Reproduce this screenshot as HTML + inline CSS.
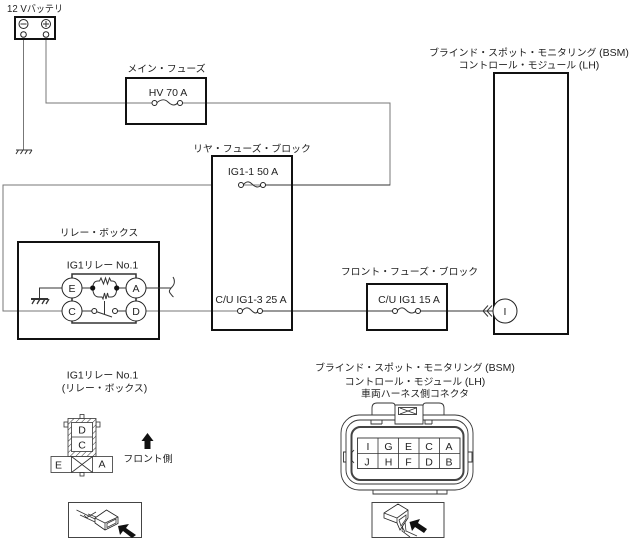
<!DOCTYPE html>
<html><head><meta charset="utf-8">
<style>
html,body{margin:0;padding:0;background:#fff;width:634px;height:541px;overflow:hidden}
svg{display:block}
text{font-family:"Liberation Sans","Noto Sans CJK JP",sans-serif;font-size:9.85px;fill:#222;text-anchor:middle}
.L{font-size:10.5px}
tspan.L{font-size:10.5px}
.w{fill:none;stroke:#333;stroke-width:1}
.g{fill:none;stroke:#777;stroke-width:1}
.b{fill:none;stroke:#111;stroke-width:2}
.t{fill:none;stroke:#333;stroke-width:.8}
.c{fill:#fff;stroke:#222;stroke-width:1}
</style></head><body>
<svg width="634" height="541" viewBox="0 0 634 541" xmlns="http://www.w3.org/2000/svg">
<defs>
<pattern id="h" width="4" height="4" patternUnits="userSpaceOnUse" patternTransform="rotate(-45)"><rect width="4" height="4" fill="#fff"/><line x1="0" y1="0" x2="4" y2="0" stroke="#333" stroke-width="1"/></pattern>
</defs>

<!-- wires -->
<path class="g" d="M23.500 38V150M46 38V103H154M180 103H390V185H241M212 185H3V311H62"/>
<path class="w" d="M263 185H390"/>
<path class="g" d="M146 311H240"/>
<path class="w" d="M260 311H395M418 311H493"/>

<!-- battery -->
<text x="35" y="12" textLength="56" lengthAdjust="spacingAndGlyphs"><tspan class="L">12 V</tspan>バッテリ</text>
<rect class="b" x="15" y="17" width="40" height="22"/>
<circle class="c" cx="23.500" cy="24" r="4.500"/><path class="w" d="M20.500 24H26.500"/>
<circle class="c" cx="46" cy="24" r="4.500"/><path class="w" d="M43 24H49M46 21V27"/>
<circle class="c" cx="23.500" cy="34.500" r="2.800"/><circle class="c" cx="46" cy="34.500" r="2.800"/>
<!-- ground -->
<path class="w" d="M16 150H32M18.500 150L16 154M23 150L20.500 154M27.500 150L25 154M32 150L29.500 154"/>

<!-- main fuse -->
<text x="166.500" y="72">メイン・フューズ</text>
<rect class="b" x="126" y="78" width="80" height="46"/>
<text class="L" x="168" y="96">HV 70 A</text>
<path class="w" d="M156.500 103C162 98 166 100 168 102S174 107 177.500 103"/>
<circle class="c" cx="154.500" cy="103" r="2.500"/><circle class="c" cx="180" cy="103" r="2.500"/>

<!-- rear fuse block -->
<text x="252" y="152">リヤ・フューズ・ブロック</text>
<rect class="b" x="212" y="156" width="80" height="174"/>
<text class="L" x="253" y="175">IG1-1 50 A</text>
<path class="w" d="M243 185C247 180 250 182 252 184S258 189 261 185"/>
<circle class="c" cx="241" cy="185" r="2.500"/><circle class="c" cx="263" cy="185" r="2.500"/>
<text class="L" x="251" y="303">C/U IG1-3 25 A</text>
<path class="w" d="M242 311C246 306 249 308 251 310S256 315 258 311"/>
<circle class="c" cx="240" cy="311" r="2.500"/><circle class="c" cx="260" cy="311" r="2.500"/>

<!-- front fuse block -->
<text x="409.500" y="275">フロント・フューズ・ブロック</text>
<rect class="b" x="367" y="284" width="80" height="46"/>
<text class="L" x="409" y="303">C/U IG1 15 A</text>
<path class="w" d="M397 311C401 306 404 308 406 310S412 315 416 311"/>
<circle class="c" cx="395" cy="311" r="2.500"/><circle class="c" cx="418" cy="311" r="2.500"/>

<!-- BSM -->
<text x="529" y="56">ブラインド・スポット・モニタリング <tspan class="L">(BSM)</tspan></text>
<text x="529" y="68.500">コントロール・モジュール <tspan class="L">(LH)</tspan></text>
<rect class="b" x="494" y="73" width="74" height="261" fill="#fff"/>
<circle class="c" cx="505" cy="311" r="12"/>
<text class="L" x="505" y="315">I</text>
<path class="w" d="M488 305.500L483 311L488 316.500M492 305.500L487 311L492 316.500"/>

<!-- relay box -->
<text x="99" y="236">リレー・ボックス</text>
<rect class="b" x="18" y="242" width="141" height="97"/>
<text x="102.500" y="268.500"><tspan class="L">IG1</tspan>リレー <tspan class="L">No.1</tspan></text>
<path class="w" d="M72 288V274H136V288M72 311V323H136V311M72 288V311M136 288V311" style="stroke-width:1.500"/>
<path class="w" d="M39.500 299V288H62M146 288H171"/>
<path class="w" d="M173 277C175 280 175 284 172 287S169 292 170 293S172 296 173.500 297"/>
<path class="w" d="M31 299H48" style="stroke-width:2"/>
<path class="w" d="M35 299L32 304M40 299L37 304M45 299L42 304M49 299L46 304" style="stroke-width:1.300"/>
<circle class="c" cx="72" cy="288" r="10"/><circle class="c" cx="72" cy="311" r="10"/>
<circle class="c" cx="136" cy="288" r="10"/><circle class="c" cx="136" cy="311" r="10"/>
<text class="L" x="72" y="292">E</text><text class="L" x="72" y="315">C</text>
<text class="L" x="136" y="292">A</text><text class="L" x="136" y="315">D</text>
<path class="w" d="M82 288H114M126 288H116.500"/>
<path fill="#fff" stroke="#333" stroke-width="1" d="M92.700 288Q93 281 98 281L99.500 281L101 278L103.500 284L105.500 278L107.500 284L109.500 278L111 281H112Q116.700 281 116.700 288Q116.700 297 111 297H108.500L107.500 293L106 299L104.500 293L103 299L102 297H99Q93 297 92.700 288Z"/>
<circle cx="92.700" cy="288" r="2.600" fill="#111"/><circle cx="116.700" cy="288" r="2.600" fill="#111"/>
<path class="w" d="M82 311H92M126 311H117.500M96 311.500L112 317M104.500 301V314"/>
<circle class="c" cx="94.300" cy="311" r="2.500"/><circle class="c" cx="115" cy="311" r="2.500"/>

<!-- relay view -->
<text x="102.500" y="378.500"><tspan class="L">IG1</tspan>リレー <tspan class="L">No.1</tspan></text>
<text x="104.500" y="391.500"><tspan class="L">(</tspan>リレー・ボックス<tspan class="L">)</tspan></text>
<rect class="t" x="80" y="414.500" width="4" height="4"/>
<rect class="t" x="64" y="422" width="4" height="5"/><rect class="t" x="96" y="422" width="4" height="5"/>
<rect x="68" y="418.500" width="28" height="38" fill="url(#h)" stroke="#333" stroke-width=".8"/>
<rect x="71.500" y="422.500" width="21" height="29" fill="#fff" stroke="#333" stroke-width=".8"/>
<path class="t" d="M71.500 437H92.500"/>
<text class="L" x="82" y="433.500">D</text><text class="L" x="82" y="448.500">C</text>
<rect x="51" y="456.500" width="61.500" height="16" fill="#fff" stroke="#333" stroke-width=".8"/>
<path class="t" d="M71.500 456.500V472.500M92.500 456.500V472.500M71.500 456.500L92.500 472.500M92.500 456.500L71.500 472.500"/>
<rect class="t" x="80" y="472.500" width="4" height="3.500"/>
<text class="L" x="58.500" y="468.500">E</text><text class="L" x="102" y="467.500">A</text>
<path d="M147.500 433L153.500 441H150.500V449H144.500V441H141.500Z" fill="#111"/>
<text x="148" y="462">フロント側</text>

<!-- inset 1 -->
<rect x="68.500" y="502.500" width="73" height="35" fill="none" stroke="#444" stroke-width="1"/>
<path class="t" d="M76.500 510L95 519M80 515L95 522M84 515L88 519M88 514L96 517M86 518L96 512"/>
<path class="c" d="M95 518L106.500 510L118 517V523.500L105 530L95 523Z" style="stroke-width:.8"/>
<path class="t" d="M95 518L105 523L118 517M105 523V530M107 523.500L116 519V523L107 527.500Z"/>
<path d="M118 526L129 524L126 528L136 535L132 538L123 531L120 535Z" fill="#111"/>

<!-- connector title -->
<text x="415" y="371">ブラインド・スポット・モニタリング <tspan class="L">(BSM)</tspan></text>
<text x="415" y="385">コントロール・モジュール <tspan class="L">(LH)</tspan></text>
<text x="415" y="397">車両ハーネス側コネクタ</text>

<!-- connector -->
<g fill="none" stroke="#333" stroke-width=".9">
<path d="M372 415V408Q372 403 377 403H392Q395 403 395 406M423 406Q423 403 426 403H439Q444 403 444 408V415"/>
<rect x="341" y="415" width="132" height="75" rx="18"/>
<rect x="346" y="420" width="122" height="64" rx="14"/>
<path d="M395 405H423V424H395Z" fill="#fff"/>
<rect x="398.500" y="407.500" width="18" height="7" fill="#fff"/>
<path d="M400 408L416 414M416 408L400 414"/>
<path d="M382 424V420M382 424H371V420M402 424H412M432 424H425V420M432 424V420"/>
<rect x="351.500" y="427" width="112" height="53" rx="9" stroke="#444" stroke-width="2"/>
<path d="M468 452H472V462H468M346 452H343.500V462H346"/>
<path d="M373 490V494H437V490M437 494H447V490"/>
<path d="M354 450L351.500 453V460L354 463"/>
</g>
<rect x="357.500" y="438" width="102.500" height="30.500" fill="#fff" stroke="#333" stroke-width=".9"/>
<path class="t" d="M357.500 453.500H460M378 438V468.500M398.500 438V468.500M419 438V468.500M439.500 438V468.500"/>
<g>
<text class="L" x="368" y="450">I</text><text class="L" x="388.500" y="450">G</text><text class="L" x="408.500" y="450">E</text><text class="L" x="429" y="450">C</text><text class="L" x="449" y="450">A</text>
<text class="L" x="367" y="465.500">J</text><text class="L" x="388.500" y="465.500">H</text><text class="L" x="408.500" y="465.500">F</text><text class="L" x="429" y="465.500">D</text><text class="L" x="449" y="465.500">B</text>
</g>

<!-- inset 2 -->
<rect x="372" y="502.500" width="72" height="35" fill="none" stroke="#444" stroke-width="1"/>
<path class="t" d="M400 523L405 532M403 524L402 531L410 537M405 522L406 531L417 536"/>
<path class="c" d="M384 513L398 504L408 510V518L400 530L397 523L384 518Z" style="stroke-width:.8"/>
<path class="t" d="M384 513L397 518L408 510M397 518V523M399 520L406 515V519L401 526Z"/>
<path d="M409.500 522L420 519L418 523L427 529L424 533L415 527L412 531Z" fill="#111"/>
</svg>
</body></html>
